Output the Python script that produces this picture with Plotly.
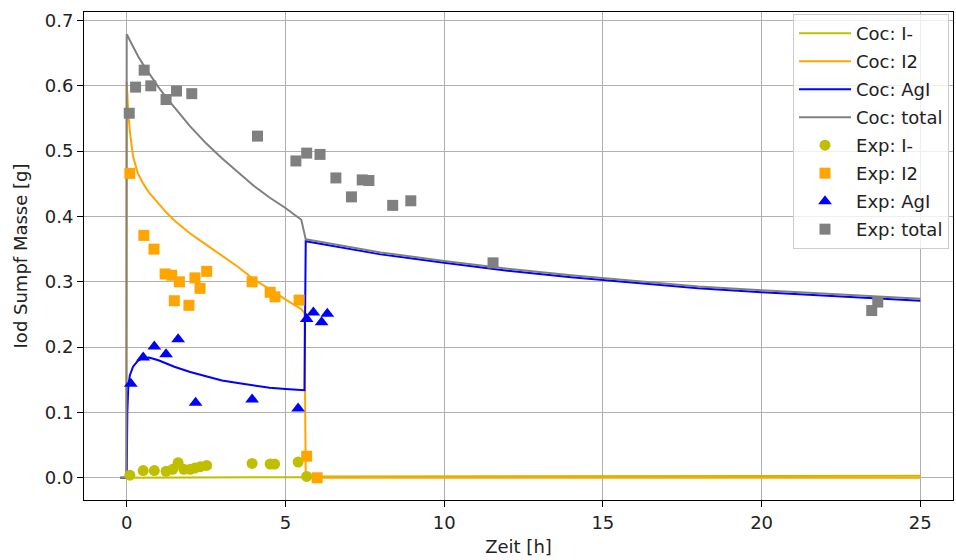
import plotly.graph_objects as go

# Simulation (Coc) time grid [h] and iodine masses [g]
t_sim = [-0.2, -0.01, 0.0, 0.02, 0.05, 0.1, 0.2, 0.35, 0.5, 0.7, 1.0, 1.25, 1.5, 2.0,
         2.5, 3.0, 3.5, 4.0, 4.5, 5.0, 5.5, 5.6, 5.64, 6.0, 7.0, 8.0, 10.0, 12.0, 14.0,
         16.0, 18.0, 20.0, 22.5, 25.0]
coc_iminus = [0.0, 0.0, 0.0, 0.0, 0.0005, 0.0005, 0.0005, 0.0005, 0.001, 0.001, 0.001,
              0.001, 0.001, 0.001, 0.001, 0.001, 0.001, 0.001, 0.001, 0.001, 0.001, 0.001,
              0.002, 0.002, 0.002, 0.002, 0.002, 0.0025, 0.0025, 0.0025, 0.003, 0.003,
              0.003, 0.003]
coc_i2 = [0.0, 0.0, 0.606, 0.585, 0.56, 0.53, 0.492, 0.466, 0.452, 0.437, 0.420, 0.406,
          0.394, 0.374, 0.357, 0.340, 0.323, 0.304, 0.288, 0.273, 0.258, 0.252, 0.0005,
          0.0, 0.0, 0.0, 0.0, 0.0, 0.0, 0.0, 0.0, 0.0, 0.0, 0.0]
coc_agi = [0.0, 0.0, 0.0, 0.10, 0.140, 0.157, 0.170, 0.179, 0.183, 0.184, 0.180, 0.175,
           0.170, 0.162, 0.155, 0.149, 0.145, 0.141, 0.138, 0.136, 0.134, 0.134, 0.362,
           0.359, 0.350, 0.342, 0.329, 0.317, 0.307, 0.298, 0.290, 0.284, 0.277, 0.271]
coc_total = [0.0, 0.0, 0.679, 0.677, 0.674, 0.669, 0.660, 0.646, 0.634, 0.619, 0.598,
             0.582, 0.567, 0.538, 0.512, 0.489, 0.468, 0.447, 0.429, 0.413, 0.395, 0.374,
             0.365, 0.362, 0.353, 0.345, 0.332, 0.320, 0.310, 0.301, 0.293, 0.287, 0.280,
             0.274]

# Experimental data
t_exp_iminus = [0.1, 0.52, 0.87, 1.24, 1.45, 1.62, 1.80, 2.0, 2.15, 2.32, 2.52, 3.95,
                4.52, 4.66, 5.40, 5.67]
exp_iminus = [0.004, 0.011, 0.011, 0.010, 0.013, 0.023, 0.013, 0.013, 0.015, 0.017,
              0.019, 0.022, 0.021, 0.021, 0.024, 0.002]

t_exp_i2 = [0.10, 0.54, 0.86, 1.21, 1.42, 1.50, 1.66, 1.96, 2.15, 2.31, 2.52, 3.95,
            4.52, 4.67, 5.43, 5.67, 6.0]
exp_i2 = [0.466, 0.371, 0.350, 0.312, 0.310, 0.271, 0.300, 0.264, 0.306, 0.290, 0.316,
          0.300, 0.284, 0.277, 0.272, 0.033, 0.0]

t_exp_agi = [0.13, 0.52, 0.87, 1.24, 1.62, 2.17, 3.95, 5.40, 5.67, 5.88, 6.14, 6.32]
exp_agi = [0.144, 0.184, 0.201, 0.189, 0.212, 0.115, 0.120, 0.106, 0.243, 0.253, 0.238,
           0.251]

t_exp_total = [0.08, 0.28, 0.55, 0.76, 1.24, 1.57, 2.05, 4.12, 5.33, 5.67, 6.09, 6.59,
               7.08, 7.42, 7.63, 8.38, 8.95, 11.54, 23.47, 23.66]
exp_total = [0.558, 0.598, 0.624, 0.600, 0.579, 0.592, 0.588, 0.523, 0.485, 0.497, 0.495,
             0.459, 0.430, 0.456, 0.455, 0.417, 0.424, 0.329, 0.256, 0.269]

x_ticks = [0, 5, 10, 15, 20, 25]
y_ticks = [0.0, 0.1, 0.2, 0.3, 0.4, 0.5, 0.6, 0.7]

OLIVE = "#bfbf00"
ORANGE = "#ffa500"
BLUE = "#0000ff"
GRAY = "#808080"

fig = go.Figure()

lines = [
    ("Coc: I-", coc_iminus, OLIVE),
    ("Coc: I2", coc_i2, ORANGE),
    ("Coc: AgI", coc_agi, BLUE),
    ("Coc: total", coc_total, GRAY),
]
for name, vals, col in lines:
    fig.add_trace(go.Scatter(
        x=t_sim, y=vals, mode="lines", name=name, legendgroup=name,
        line=dict(color=col, width=2),
    ))

points = [
    ("Exp: I-", t_exp_iminus, exp_iminus, OLIVE, "circle", 11),
    ("Exp: I2", t_exp_i2, exp_i2, ORANGE, "square", 11),
    ("Exp: AgI", t_exp_agi, exp_agi, BLUE, "triangle-up", 12),
    ("Exp: total", t_exp_total, exp_total, GRAY, "square", 11),
]
for name, tx, vals, col, sym, sz in points:
    fig.add_trace(go.Scatter(
        x=tx, y=vals, mode="markers", name=name, legendgroup=name,
        marker=dict(color=col, symbol=sym, size=sz, line=dict(width=0)),
    ))

axis_font = dict(family="DejaVu Sans", size=18, color="#222222")

fig.update_layout(
    width=956, height=560,
    margin=dict(l=84, r=3, t=12, b=60),
    plot_bgcolor="white", paper_bgcolor="white",
    font=axis_font,
    showlegend=True,
    legend=dict(
        x=0.9954, y=0.996, xanchor="right", yanchor="top",
        bgcolor="rgba(255,255,255,0.8)", bordercolor="#cccccc", borderwidth=1,
        font=dict(family="DejaVu Sans", size=18, color="#222222"),
        tracegroupgap=1.6, itemwidth=52,
    ),
    xaxis=dict(
        range=[-1.345, 26.03], tickvals=x_ticks, ticktext=[str(v) for v in x_ticks],
        showgrid=True, gridcolor="#b0b0b0", gridwidth=1,
        showline=True, linecolor="black", linewidth=1, mirror=True,
        ticks="outside", ticklen=6, tickcolor="black", zeroline=False,
        tickfont=axis_font,
        title=dict(text="Zeit [h]", standoff=8, font=axis_font),
    ),
    yaxis=dict(
        range=[-0.034, 0.713], tickvals=y_ticks, ticktext=[f"{v:.1f}" for v in y_ticks],
        showgrid=True, gridcolor="#b0b0b0", gridwidth=1,
        showline=True, linecolor="black", linewidth=1, mirror=True,
        ticks="outside", ticklen=6, tickcolor="black", zeroline=False,
        tickfont=axis_font,
        title=dict(text="Iod Sumpf Masse [g]", standoff=12, font=axis_font),
    ),
)

fig.write_html("out.html")
